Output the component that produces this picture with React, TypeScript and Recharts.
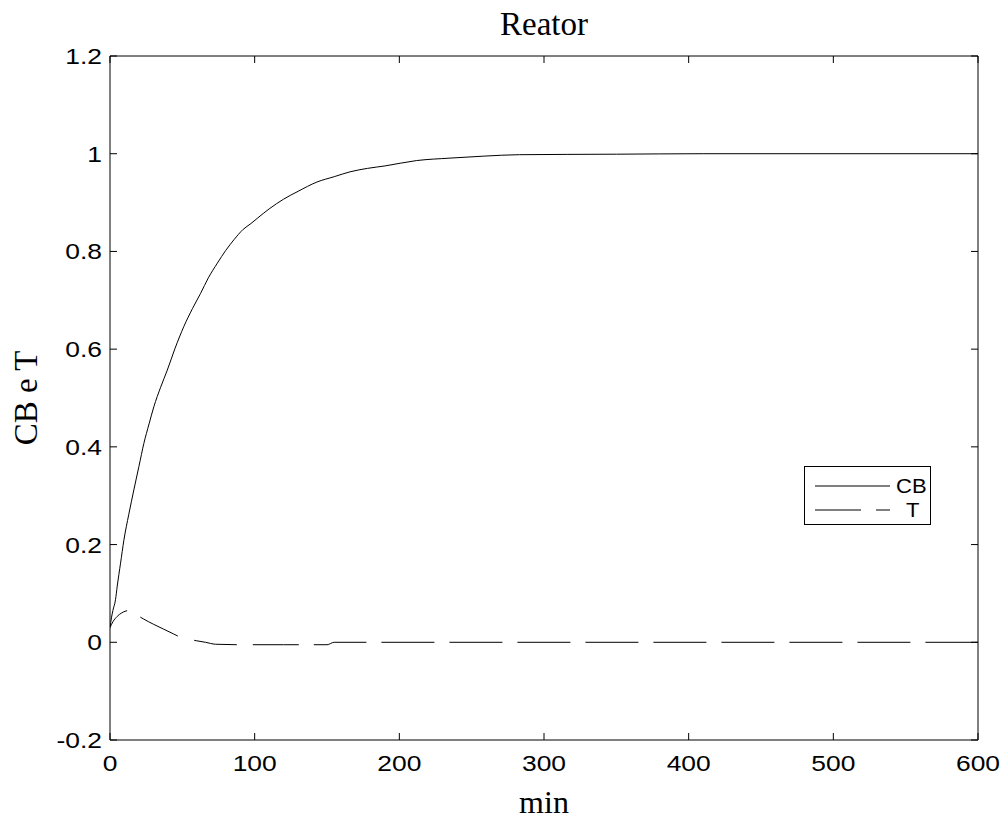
import React from 'react';
import { LineChart, Line, XAxis, YAxis, Legend, Label } from 'recharts';

// CB curve (time in min, value)
const cbTime = [0, 1, 2, 3.8, 5, 7.3, 9.6, 13, 16.5, 20, 23.4, 27, 30.3, 35, 39.6, 45, 51, 57, 62.6, 68, 74.2, 80, 85.7, 92, 97.4, 101.9, 110, 120, 130, 143, 155, 166, 178, 190, 212, 235, 258, 283, 350, 410, 600];
const cbValue = [0.03, 0.05, 0.065, 0.087, 0.115, 0.162, 0.209, 0.262, 0.312, 0.36, 0.407, 0.447, 0.482, 0.522, 0.557, 0.602, 0.646, 0.683, 0.714, 0.746, 0.776, 0.802, 0.824, 0.845, 0.857, 0.868, 0.887, 0.907, 0.923, 0.942, 0.953, 0.963, 0.97, 0.975, 0.986, 0.991, 0.995, 0.998, 0.999, 1.0, 1.0];

// T curve
const tTime = [0, 2, 5, 8, 11, 13, 15, 18, 23, 30, 37, 44, 49, 55, 60, 66, 73, 90, 120, 150, 155, 600];
const tValue = [0.03, 0.042, 0.053, 0.06, 0.064, 0.065, 0.063, 0.057, 0.048, 0.037, 0.027, 0.017, 0.01, 0.006, 0.003, 0.0, -0.004, -0.005, -0.005, -0.005, 0.0, 0.0];

const xTicks = [0, 100, 200, 300, 400, 500, 600];
const yTicks = [-0.2, 0, 0.2, 0.4, 0.6, 0.8, 1, 1.2];

const seriesNames = ['CB', 'T'];
const titleText = 'Reator';
const xLabelText = 'min';
const yLabelText = 'CB e T';

const cbData = cbTime.map((t, i) => ({ t, v: cbValue[i] }));
const tData = tTime.map((t, i) => ({ t, v: tValue[i] }));

const SANS = '"Liberation Sans", Arial, Helvetica, sans-serif';
const SERIF = '"Liberation Serif", "Times New Roman", serif';

const fmtY = (v: number) => String(Number(Number(v).toFixed(1)));

const T_DASH = '25 15 42 17 43 16 46 15 53 15 53 15 53 15 53 15 53 15 53 15 53 15 53 15 53 15 53 15 53 15 53 15';

const BottomTick = (p: any) => (
  <g>
    <line x1={p.x} y1={p.y} x2={p.x} y2={p.y - 7} stroke="#000" strokeWidth={1} />
    <text transform={`translate(${p.x},${p.y + 31}) scale(1.2,1)`} textAnchor="middle" fontFamily={SANS} fontSize={22} fill="#000">
      {p.payload.value}
    </text>
  </g>
);
const LeftTick = (p: any) => (
  <g>
    <line x1={p.x} y1={p.y} x2={p.x + 7} y2={p.y} stroke="#000" strokeWidth={1} />
    <text transform={`translate(${p.x - 8},${p.y + 8}) scale(1.2,1)`} textAnchor="end" fontFamily={SANS} fontSize={22} fill="#000">
      {fmtY(p.payload.value)}
    </text>
  </g>
);
const TopTick = (p: any) => (
  <line x1={p.x} y1={p.y} x2={p.x} y2={p.y + 7} stroke="#000" strokeWidth={1} />
);
const RightTick = (p: any) => (
  <line x1={p.x} y1={p.y} x2={p.x - 7} y2={p.y} stroke="#000" strokeWidth={1} />
);

const LegendBox = () => (
  <svg width={128} height={60} style={{ display: 'block' }}>
    <rect x={0.5} y={0.5} width={126} height={58} fill="#fff" stroke="#000" strokeWidth={1} />
    <line x1={11} y1={20} x2={86} y2={20} stroke="#000" strokeWidth={1} />
    <text transform="translate(92,27) scale(1.1,1)" fontFamily={SANS} fontSize={20} fill="#000">{seriesNames[0]}</text>
    <line x1={11} y1={44} x2={86} y2={44} stroke="#000" strokeWidth={1} strokeDasharray="46 15" />
    <text transform="translate(102,51) scale(1.1,1)" fontFamily={SANS} fontSize={20} fill="#000">{seriesNames[1]}</text>
  </svg>
);

export default function App() {
  return (
    <div style={{ position: 'absolute', left: 0, top: 0, width: 1004, height: 819, background: '#fff' }}>
      <LineChart width={1004} height={819} margin={{ top: 0, right: 0, bottom: 0, left: 0 }}>
        <XAxis
          xAxisId="bottom"
          dataKey="t"
          type="number"
          domain={[0, 600]}
          ticks={xTicks}
          orientation="bottom"
          height={79}
          tickSize={0}
          tickMargin={0}
          tickLine={false}
          stroke="#000"
          tick={BottomTick}
          interval={0}
          allowDataOverflow
        >
          <Label
            content={(props: any) => {
              const vb = props.viewBox || {};
              return (
                <text x={vb.x + vb.width / 2} y={vb.y + 73} textAnchor="middle" fontFamily={SERIF} fontSize={32} fill="#000">
                  {xLabelText}
                </text>
              );
            }}
          />
        </XAxis>
        <XAxis
          xAxisId="top"
          dataKey="t"
          type="number"
          domain={[0, 600]}
          ticks={xTicks}
          orientation="top"
          height={56}
          tickSize={0}
          tickMargin={0}
          tickLine={false}
          tick={TopTick}
          interval={0}
          stroke="#000"
          allowDataOverflow
        >
          <Label
            content={(props: any) => {
              const vb = props.viewBox || {};
              return (
                <text x={vb.x + vb.width / 2} y={35} textAnchor="middle" fontFamily={SERIF} fontSize={33} fill="#000">
                  {titleText}
                </text>
              );
            }}
          />
        </XAxis>
        <YAxis
          yAxisId="left"
          type="number"
          domain={[-0.2, 1.2]}
          ticks={yTicks}
          orientation="left"
          width={110}
          tickSize={0}
          tickMargin={0}
          tickLine={false}
          stroke="#000"
          tick={LeftTick}
          interval={0}
          allowDataOverflow
        >
          <Label
            content={() => (
              <text x={37} y={398} transform="rotate(-90, 37, 398)" textAnchor="middle" fontFamily={SERIF} fontSize={33} fill="#000">
                {yLabelText}
              </text>
            )}
          />
        </YAxis>
        <YAxis
          yAxisId="right"
          type="number"
          domain={[-0.2, 1.2]}
          ticks={yTicks}
          orientation="right"
          width={26}
          tickSize={0}
          tickMargin={0}
          tickLine={false}
          tick={RightTick}
          interval={0}
          stroke="#000"
          allowDataOverflow
        />
        <Line
          xAxisId="bottom"
          yAxisId="left"
          data={cbData}
          dataKey="v"
          name={seriesNames[0]}
          type="monotoneX"
          stroke="#000"
          strokeWidth={1}
          dot={false}
          activeDot={false}
          isAnimationActive={false}
        />
        <Line
          xAxisId="bottom"
          yAxisId="left"
          data={tData}
          dataKey="v"
          name={seriesNames[1]}
          type="monotoneX"
          stroke="#000"
          strokeWidth={1}
          strokeDasharray={T_DASH}
          dot={false}
          activeDot={false}
          isAnimationActive={false}
        />
        <Legend
          layout="horizontal"
          align="center"
          verticalAlign="middle"
          content={() => <LegendBox />}
          wrapperStyle={{ left: 804, top: 466, width: 128, height: 60 }}
        />
      </LineChart>
    </div>
  );
}
